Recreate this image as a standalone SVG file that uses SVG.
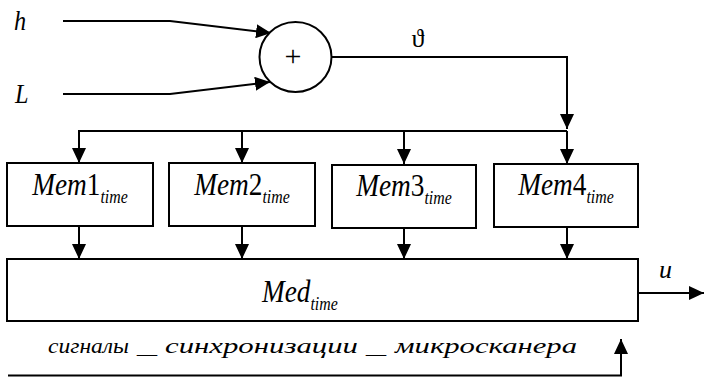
<svg xmlns="http://www.w3.org/2000/svg" width="704" height="379" viewBox="0 0 704 379">
<defs>
<marker id="ah" markerUnits="userSpaceOnUse" markerWidth="16" markerHeight="14" refX="15" refY="7" orient="auto">
<path d="M0,0 L15,7 L0,14 Z" fill="#000"/>
</marker>
<style>
.ln{fill:none;stroke:#000;stroke-width:2}
.bx{fill:#fff;stroke:#000;stroke-width:2}
.t{font-style:italic;fill:#000}
.up{font-style:normal}
.lbl{font-size:31px}
.sub{font-size:18px}
.sync{font-size:22px}
</style>
</defs>
<rect width="704" height="379" fill="#fff"/>
<g id="connectors">
<polyline class="ln" points="63,21 170,21 271,33" marker-end="url(#ah)"/>
<polyline class="ln" points="63,94 170,94 270,82" marker-end="url(#ah)"/>
<polyline class="ln" points="332,57 567,57 567,129" marker-end="url(#ah)"/>
<polyline class="ln" points="567,131 79,131 79,163" marker-end="url(#ah)"/>
<line class="ln" x1="242" y1="131" x2="242" y2="163" marker-end="url(#ah)"/>
<line class="ln" x1="404" y1="131" x2="404" y2="164" marker-end="url(#ah)"/>
<line class="ln" x1="567" y1="131" x2="567" y2="164" marker-end="url(#ah)"/>
<line class="ln" x1="79" y1="226" x2="79" y2="259" marker-end="url(#ah)"/>
<line class="ln" x1="242" y1="226" x2="242" y2="259" marker-end="url(#ah)"/>
<line class="ln" x1="404" y1="228" x2="404" y2="259" marker-end="url(#ah)"/>
<line class="ln" x1="567" y1="227" x2="567" y2="259" marker-end="url(#ah)"/>
<line class="ln" x1="638" y1="293" x2="704" y2="293" marker-end="url(#ah)"/>
<polyline class="ln" points="8,375.5 621,375.5 621,339" marker-end="url(#ah)"/>
</g>
<g font-family="Liberation Serif, Times New Roman, DejaVu Serif, serif">
<g id="label-h"><text class="t" transform="translate(14,30) scale(0.9,1)" font-size="27">h</text></g>
<g id="label-L"><text class="t" transform="translate(15,103) scale(0.9,1)" font-size="27">L</text></g>
<g id="sum">
<ellipse class="bx" cx="295.5" cy="57" rx="36" ry="35"/>
<text x="293" y="66" font-size="30" text-anchor="middle">+</text>
</g>
<g id="label-theta"><text x="418" y="47" font-size="26" text-anchor="middle">ϑ</text></g>
<g id="mem1">
<rect class="bx" x="7" y="163" width="146" height="63"/>
<text class="t lbl" transform="translate(80,195) scale(0.88,1)" text-anchor="middle">Mem<tspan class="up">1</tspan><tspan class="sub" dy="8">time</tspan></text>
</g>
<g id="mem2">
<rect class="bx" x="169" y="163" width="146" height="63"/>
<text class="t lbl" transform="translate(242,195) scale(0.88,1)" text-anchor="middle">Mem<tspan class="up">2</tspan><tspan class="sub" dy="8">time</tspan></text>
</g>
<g id="mem3">
<rect class="bx" x="332" y="165" width="144" height="63"/>
<text class="t lbl" transform="translate(404,196) scale(0.88,1)" text-anchor="middle">Mem<tspan class="up">3</tspan><tspan class="sub" dy="8">time</tspan></text>
</g>
<g id="mem4">
<rect class="bx" x="494" y="164" width="144" height="63"/>
<text class="t lbl" transform="translate(566,195) scale(0.88,1)" text-anchor="middle">Mem<tspan class="up">4</tspan><tspan class="sub" dy="8">time</tspan></text>
</g>
<g id="med">
<rect class="bx" x="7" y="259" width="631" height="62"/>
<text class="t lbl" transform="translate(262,302) scale(0.88,1)">Med<tspan class="sub" dy="8">time</tspan></text>
</g>
<g id="label-u"><text class="t" x="659" y="278" font-size="26">u</text></g>
<g id="label-sync">
<text class="t sync" y="353"><tspan x="48" textLength="81" lengthAdjust="spacingAndGlyphs">сигналы</tspan> <tspan x="137" textLength="20" lengthAdjust="spacingAndGlyphs">_</tspan> <tspan x="165" textLength="193" lengthAdjust="spacingAndGlyphs">синхронизации</tspan> <tspan x="366" textLength="20" lengthAdjust="spacingAndGlyphs">_</tspan> <tspan x="395" textLength="182" lengthAdjust="spacingAndGlyphs">микросканера</tspan></text>
</g>
</g>
</svg>
